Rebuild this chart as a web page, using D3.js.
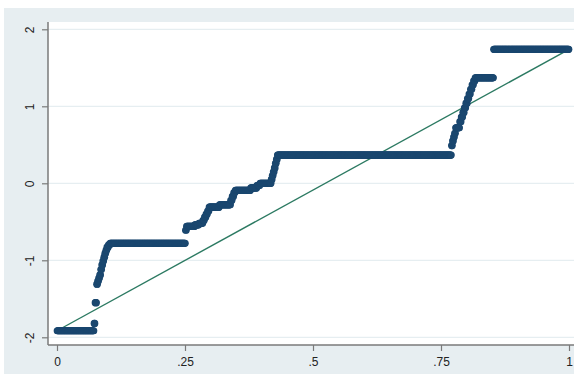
<!DOCTYPE html>
<html>
<head>
<meta charset="utf-8">
<script src="https://cdn.jsdelivr.net/npm/d3@7"></script>
<style>
  html, body { margin: 0; padding: 0; background: #ffffff; }
  svg { display: block; }
  text { font-family: "Liberation Sans", Arial, sans-serif; fill: #222; }
</style>
</head>
<body>
<svg id="chart" width="574" height="376"></svg>
<script>
// Distinct observed values and how many observations take each value.
const values = [
  -1.915, -1.82, -1.55,
  -1.31, -1.27, -1.23, -1.19,
  -1.12, -1.06, -1.01, -0.96, -0.91, -0.87, -0.83, -0.80,
  -0.78,
  -0.61, -0.56, -0.54, -0.52,
  -0.48, -0.44, -0.40, -0.36,
  -0.31, -0.28,
  -0.22, -0.17, -0.12,
  -0.09, -0.06, -0.03, 0.00,
  0.05, 0.10, 0.15, 0.20, 0.26, 0.31,
  0.367,
  0.49, 0.55, 0.60, 0.65, 0.72,
  0.80, 0.86, 0.92, 0.98, 1.04, 1.10,
  1.16, 1.22, 1.28, 1.33, 1.37,
  1.74
];
const counts = [
  72, 2, 3,
  2, 2, 2, 2,
  2, 2, 2, 2, 2, 2, 3, 3,
  147,
  2, 16, 8, 8,
  3, 3, 3, 3,
  20, 22,
  3, 3, 3,
  30, 12, 6, 22,
  2, 2, 2, 2, 2, 2,
  339,
  2, 2, 2, 2, 8,
  3, 3, 3, 3, 3, 3,
  3, 3, 3, 3, 36,
  147
];
const xTicks = [0, 0.25, 0.5, 0.75, 1];
const xTickLabels = ["0", ".25", ".5", ".75", "1"];
const yTicks = [-2, -1, 0, 1, 2];
const yTickLabels = ["-2", "-1", "0", "1", "2"];

// Expand the frequency table into sorted observations and attach plotting positions.
const obs = [];
values.forEach((v, i) => { for (let k = 0; k < counts[i]; k++) obs.push(v); });
obs.sort(d3.ascending);
const n = obs.length;
const points = obs.map((v, i) => ({ p: (i + 0.5) / n, v }));

const svg = d3.select("#chart");
const W = 574, H = 376;
const plot = { left: 48, top: 22, right: 574, bottom: 345 };

// Graph region background
svg.append("rect").attr("x", 4).attr("y", 8).attr("width", W - 4).attr("height", H - 10)
  .attr("fill", "#e7eef1");
// Plot region
svg.append("rect").attr("x", plot.left).attr("y", plot.top)
  .attr("width", plot.right - plot.left).attr("height", plot.bottom - plot.top)
  .attr("fill", "#ffffff");

const x = d3.scaleLinear().domain([0, 1]).range([57, 569]);
const y = d3.scaleLinear().domain([-2, 2]).range([337.3, 29.3]);

// Horizontal grid lines
svg.append("g").selectAll("line").data(yTicks).join("line")
  .attr("x1", plot.left).attr("x2", plot.right)
  .attr("y1", d => y(d)).attr("y2", d => y(d))
  .attr("stroke", "#e6eef1").attr("stroke-width", 1.2);

// Reference line from the minimum to the maximum
const vmin = d3.min(obs), vmax = d3.max(obs);
svg.append("line")
  .attr("x1", x(0)).attr("y1", y(vmin))
  .attr("x2", x(1)).attr("y2", y(vmax))
  .attr("stroke", "#2c7a62").attr("stroke-width", 1.4);

// Quantile markers
svg.append("g").selectAll("circle").data(points).join("circle")
  .attr("cx", d => x(d.p)).attr("cy", d => y(d.v)).attr("r", 3.6)
  .attr("fill", "#1a476f");

// Y axis
const yAxis = d3.axisLeft(y).tickValues(yTicks)
  .tickFormat((d, i) => yTickLabels[i]).tickSize(6).tickPadding(5);
const gy = svg.append("g").attr("transform", `translate(${plot.left},0)`).call(yAxis);
gy.select(".domain").attr("d", `M0,${plot.top}V${plot.bottom}`)
  .attr("stroke", "#7a7a7a").attr("stroke-width", 1.5);
gy.selectAll(".tick line").attr("stroke", "#7a7a7a").attr("stroke-width", 1.2);
gy.selectAll(".tick text")
  .attr("font-size", 12).attr("fill", "#222")
  .attr("text-anchor", "middle")
  .attr("x", 0).attr("dy", 0)
  .attr("transform", "translate(-18,0) rotate(-90)")
  .attr("dominant-baseline", "central");

// X axis
const xAxis = d3.axisBottom(x).tickValues(xTicks)
  .tickFormat((d, i) => xTickLabels[i]).tickSize(6).tickPadding(6);
const gx = svg.append("g").attr("transform", `translate(0,${plot.bottom})`).call(xAxis);
gx.select(".domain").attr("d", `M${plot.left},0H${plot.right}`)
  .attr("stroke", "#7a7a7a").attr("stroke-width", 1.5);
gx.selectAll(".tick line").attr("stroke", "#7a7a7a").attr("stroke-width", 1.2);
gx.selectAll(".tick text").attr("font-size", 12).attr("fill", "#222");
</script>
</body>
</html>
